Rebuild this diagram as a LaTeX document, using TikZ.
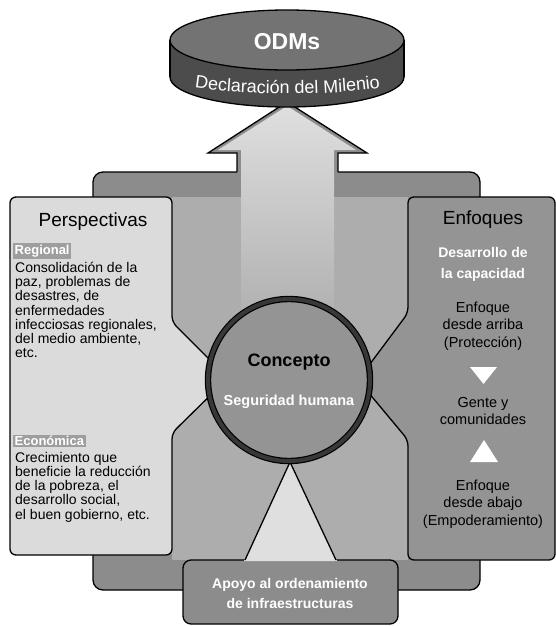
\documentclass[tikz,border=0pt]{standalone}
\usepackage{fontspec}
\setmainfont{Liberation Sans}
\usetikzlibrary{decorations.text}
\definecolor{diskside}{gray}{0.30}
\definecolor{disktop}{gray}{0.45}
\definecolor{framegray}{gray}{0.55}
\definecolor{innergray}{gray}{0.68}
\definecolor{paleboxgray}{gray}{0.86}
\definecolor{enfoquegray}{gray}{0.58}
\definecolor{circlegray}{gray}{0.58}
\definecolor{ringgray}{gray}{0.22}
\definecolor{subheadgray}{gray}{0.62}

\begin{document}
\begin{tikzpicture}[x=1pt, y=-1pt,
    outline/.style={draw=black, line width=1.3pt},
    bigtitle/.style={inner sep=0pt, font=\fontsize{19}{19}\selectfont},
    subhead/.style={anchor=west, inner sep=1.5pt, text=white, fill=subheadgray, font=\bfseries\fontsize{13}{13}\selectfont},
    bodytext/.style={inner sep=0pt, align=left, anchor=north west, font=\fontsize{14}{14.2}\selectfont},
    sidetext/.style={inner sep=0pt, align=center, font=\fontsize{14.5}{17.5}\selectfont}]

    % Background
    \fill[white] (0,0) rectangle (556,626);
    \useasboundingbox (0,0) rectangle (556,626);

    % Frame with the arrow up
    \draw[outline, fill=framegray, rounded corners=10] (93,172) rectangle (480,590);
    \fill[framegray] (237,175) -- (237,153) -- (208,153) -- (287,102) -- (367,153) -- (338,153) -- (338,175) -- cycle;
    \draw[outline] (237,172) -- (237,153) -- (208,153) -- (287,102) -- (367,153) -- (338,153) -- (338,172);

    \fill[innergray] (172,197) rectangle (408,560);
    \shade[top color=gray!25, bottom color=innergray] (241,330) -- (241,150) -- (218,150) -- (287,106) -- (356,150) -- (334,150) -- (334,330) -- cycle;

    % Bottom box
    \draw[outline, fill=framegray, rounded corners=8] (183,560) rectangle (398,624);
    \fill[gray!25] (244,561) -- (290,462) -- (337,561) -- cycle;
    \draw[outline] (245,560) -- (290,462) -- (336,560);

    % Left box
    \draw[outline, fill=paleboxgray, rounded corners=6] (10,197) -- (172,197) -- (172,322) -- (228,378) -- (172,433) -- (172,555) -- (10,555) -- cycle;

    % Right box
    \draw[outline, fill=enfoquegray, rounded corners=6] (408,197) -- (555,197) -- (555,560) -- (408,560) -- (408,440) -- (358,380) -- (408,313) -- cycle;

    % Concept circle
    \node[circle, minimum size=162, inner sep=0pt, fill=circlegray, draw=black, line width=1.2pt, double=ringgray, double distance=4pt] (concepto) at (289,380) {};

    % ODM disc
    \draw[outline, fill=diskside] (287,77) ellipse [x radius=117, y radius=30];
    \fill[diskside] (170,40) rectangle (404,77);
    \draw[outline] (170,40) -- (170,77) (404,40) -- (404,77);
    \draw[outline, fill=disktop] (287,40) ellipse [x radius=117, y radius=30];

    \node[inner sep=0pt, text=white, font=\bfseries\fontsize{23}{23}\selectfont] (odms) at (287,42) {ODMs};
    \path[decorate, decoration={text along path, text align=center,
        text={|\fontsize{18}{18}\selectfont\color{white}|Declaración del Milenio}}]
        (175,84) .. controls (225,97) and (350,97) .. (400,84);

    % Texts
    \node[bigtitle] (perspectivas) at (93,222) {Perspectivas};
    \node[subhead] (regional) at (13,251) {Regional};
    \node[bodytext] (regionaltext) at (15,262) {Consolidación de la\\paz, problemas de\\desastres, de\\enfermedades\\infecciosas regionales,\\del medio ambiente,\\etc.};
    \node[subhead] (economica) at (13,441) {Económica};
    \node[bodytext] (economicatext) at (15,452) {Crecimiento que\\beneficie la reducción\\de la pobreza, el\\desarrollo social,\\el buen gobierno, etc.};

    \node[bigtitle] (enfoques) at (483,220) {Enfoques};
    \node[sidetext, text=white, font=\bfseries\fontsize{14}{21}\selectfont] (capacidad) at (483,264) {Desarrollo de\\la capacidad};
    \node[sidetext] (arriba) at (483,326) {Enfoque\\desde arriba\\(Protección)};
    \fill[white] (470,367) -- (497,367) -- (483.5,384) -- cycle;
    \node[sidetext] (gente) at (483,411) {Gente y\\comunidades};
    \fill[white] (484,440) -- (498,462) -- (470,462) -- cycle;
    \node[sidetext] (abajo) at (483,504) {Enfoque\\desde abajo\\(Empoderamiento)};

    \node[inner sep=0pt, font=\bfseries\fontsize{18}{18}\selectfont] (conceptotitle) at (289,362) {Concepto};
    \node[inner sep=0pt, text=white, font=\bfseries\fontsize{14.5}{14.5}\selectfont] (seguridad) at (289,402) {Seguridad humana};

    \node[inner sep=0pt, align=center, text=white, font=\bfseries\fontsize{14}{20}\selectfont] (apoyo) at (290,593) {Apoyo al ordenamiento\\de infraestructuras};

\end{tikzpicture}
\end{document}
